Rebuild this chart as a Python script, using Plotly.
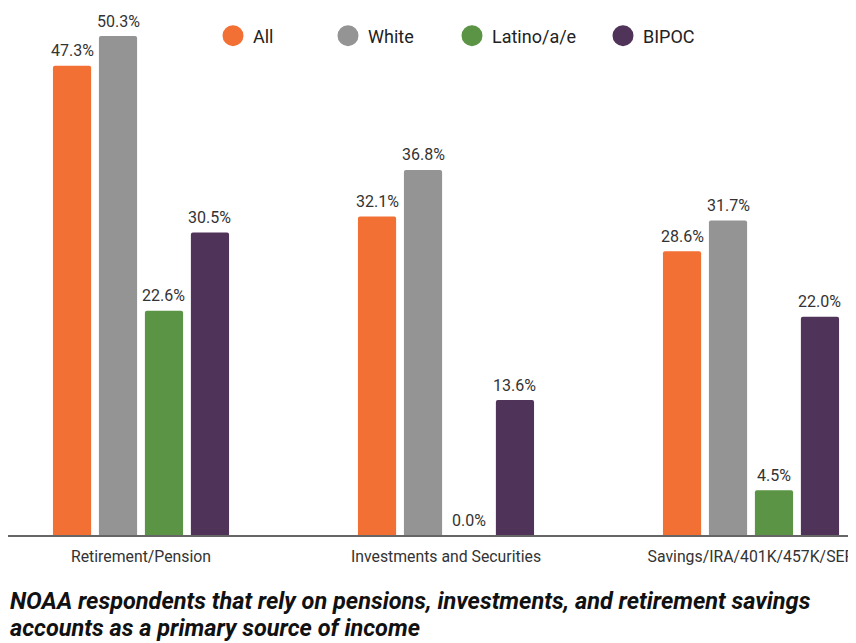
import plotly.graph_objects as go

categories = ["Retirement/Pension", "Investments and Securities", "Savings/IRA/401K/457K/SEP"]
series_names = ["All", "White", "Latino/a/e", "BIPOC"]
all_vals = [47.3, 32.1, 28.6]
white_vals = [50.3, 36.8, 31.7]
latino_vals = [22.6, 0.0, 4.5]
bipoc_vals = [30.5, 13.6, 22.0]
colors = ["#F37034", "#959495", "#5A9444", "#503359"]
title_lines = [
    "NOAA respondents that rely on pensions, investments, and retirement savings",
    "accounts as a primary source of income",
]

series = [all_vals, white_vals, latino_vals, bipoc_vals]

BARGAP = 0.397
BARGROUPGAP = 0.17
OFF = 8  # page body margin
W, H = 856 - OFF, 643 - OFF
PLOT_BOTTOM = 535 - OFF
PX_PER_UNIT = 9.92
CAT0 = 141 - OFF
CAT_STEP = 305

fig = go.Figure()

for name, vals, col in zip(series_names, series, colors):
    fig.add_trace(go.Bar(
        x=categories, y=vals, name=name,
        marker=dict(color=col, cornerradius=2, line=dict(width=0)),
        showlegend=False, hoverinfo="skip",
    ))

# legend entries (circle markers), each in its own legend
legend_x = [205, 320, 444, 595]
for k, (name, col) in enumerate(zip(series_names, colors)):
    lg = "legend" if k == 0 else f"legend{k+1}"
    fig.add_trace(go.Scatter(
        x=[None], y=[None], mode="markers", name=name,
        marker=dict(color=col, size=16, line=dict(color=col, width=5)),
        legend=lg, showlegend=True,
    ))

# value labels via annotations
w = 1 - BARGAP
annotations = []
for j, vals in enumerate(series):
    off = -w / 2 + (j + 0.5) * w / 4
    for i, v in enumerate(vals):
        annotations.append(dict(
            x=i + off, y=v, xref="x", yref="y", text=f"{v:.1f}%",
            showarrow=False, yanchor="middle", yshift=15,
            font=dict(family="Roboto", size=16, color="#333333"),
        ))

# title (two lines at the bottom)
title_y = [601 - OFF, 628 - OFF]
for line, ty in zip(title_lines, title_y):
    annotations.append(dict(
        x=0, xref="paper", xanchor="left",
        y=(PLOT_BOTTOM - ty) / PLOT_BOTTOM, yref="paper", yanchor="middle",
        text=line, showarrow=False,
        font=dict(family="Roboto", size=23.5, color="#111111", weight="bold", style="italic"),
    ))

layout_legends = {}
for k, lx in enumerate(legend_x):
    key = "legend" if k == 0 else f"legend{k+1}"
    layout_legends[key] = dict(
        x=lx / W, xanchor="left", y=(PLOT_BOTTOM - (36 - OFF)) / PLOT_BOTTOM, yanchor="middle",
        orientation="h", bgcolor="rgba(0,0,0,0)",
        font=dict(family="Roboto", size=18, color="#222222"),
        borderwidth=0,
    )

fig.update_layout(
    width=W, height=H,
    margin=dict(l=0, r=0, t=0, b=H - PLOT_BOTTOM),
    plot_bgcolor="white", paper_bgcolor="white",
    barmode="group", bargap=BARGAP, bargroupgap=BARGROUPGAP,
    annotations=annotations,
    xaxis=dict(
        type="category", range=[-CAT0 / CAT_STEP, (W - CAT0) / CAT_STEP],
        showline=True, linecolor="#666666", linewidth=1.5,
        ticks="", showgrid=False, zeroline=False, ticklabelstandoff=6,
        tickfont=dict(family="Roboto", size=15.8, color="#333333"),
    ),
    yaxis=dict(range=[0, PLOT_BOTTOM / PX_PER_UNIT], visible=False, showgrid=False, zeroline=False),
    **layout_legends,
)

fig.write_html("out.html")
